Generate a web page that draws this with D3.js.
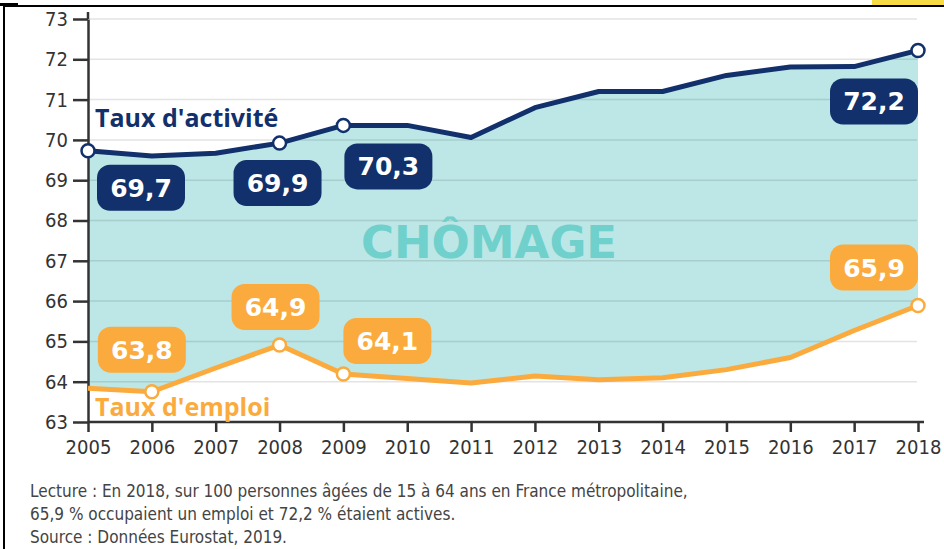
<!DOCTYPE html>
<html>
<head>
<meta charset="utf-8">
<script src="https://cdn.jsdelivr.net/npm/d3@7"></script>
<style>
  body { margin: 0; background: #fff; }
  svg { display: block; }
</style>
</head>
<body>
<div id="container"></div>
<script>
// values
const years = [2005, 2006, 2007, 2008, 2009, 2010, 2011, 2012, 2013, 2014, 2015, 2016, 2017, 2018];
const tauxActivite = [69.73, 69.6, 69.67, 69.92, 70.36, 70.36, 70.06, 70.8, 71.2, 71.2, 71.6, 71.81, 71.82, 72.22];
const tauxEmploi = [63.84, 63.75, 64.34, 64.91, 64.19, 64.08, 63.97, 64.14, 64.05, 64.1, 64.3, 64.6, 65.27, 65.89];
const yTicks = [63, 64, 65, 66, 67, 68, 69, 70, 71, 72, 73];
const activiteLabels = [
    { year: 2005, text: '69,7' },
    { year: 2008, text: '69,9' },
    { year: 2009, text: '70,3' },
    { year: 2018, text: '72,2' }
];
const emploiLabels = [
    { year: 2006, text: '63,8' },
    { year: 2008, text: '64,9' },
    { year: 2009, text: '64,1' },
    { year: 2018, text: '65,9' }
];
const footerLines = [
    'Lecture : En 2018, sur 100 personnes âgées de 15 à 64 ans en France métropolitaine,',
    '65,9 % occupaient un emploi et 72,2 % étaient actives.',
    'Source : Données Eurostat, 2019.'
];

const w = 944;
const h = 549;
const navy = '#12306b';
const orange = '#fbab3e';
const teal = '#bce7e6';
const axisColor = '#333';
const condensed = '"DejaVu Sans Condensed", "Liberation Sans Narrow", sans-serif';

const svg = d3.select('#container').append('svg')
    .attr('width', w)
    .attr('height', h);

const xScale = d3.scaleLinear().domain([2005, 2018]).range([88, 918]);
const yScale = d3.scaleLinear().domain([63, 73]).range([422, 19]);

const rows = years.map((year, i) => ({ year, act: tauxActivite[i], emp: tauxEmploi[i] }));

// frame bits of the cropped page
svg.append('rect').attr('x', 872).attr('y', 0).attr('width', 72).attr('height', 6).attr('fill', '#f8dc45');
svg.append('path').attr('d', `M4,${h} V6 H${w}`).attr('fill', 'none').attr('stroke', '#000').attr('stroke-width', 2);
svg.append('rect').attr('x', 0).attr('y', 3).attr('width', 18).attr('height', 3).attr('fill', '#000');

// shaded band between the two rates
const area = d3.area()
    .x(d => xScale(d.year))
    .y0(d => yScale(d.emp))
    .y1(d => yScale(d.act));

svg.append('path')
    .datum(rows)
    .attr('d', area)
    .attr('fill', teal);

// grid
svg.append('g')
    .selectAll('line')
    .data(yTicks.filter(t => t > 63))
    .join('line')
    .attr('x1', xScale(2005))
    .attr('x2', xScale(2018) - 1)
    .attr('y1', d => yScale(d))
    .attr('y2', d => yScale(d))
    .attr('stroke', 'rgba(0,0,0,0.11)')
    .attr('stroke-width', 1.5);

svg.append('text')
    .attr('x', 489)
    .attr('y', 258)
    .attr('text-anchor', 'middle')
    .attr('font-family', '"DejaVu Sans", sans-serif')
    .attr('font-weight', 'bold')
    .attr('font-size', 45)
    .attr('fill', '#6fd0cc')
    .text('CHÔMAGE');

// axes
const yAxis = d3.axisLeft(yScale)
    .tickValues(yTicks)
    .tickSize(15)
    .tickSizeOuter(0)
    .tickPadding(5);

const xAxis = d3.axisBottom(xScale)
    .tickValues(years)
    .tickFormat(d3.format('d'))
    .tickSize(10)
    .tickSizeOuter(0)
    .tickPadding(8);

const gy = svg.append('g')
    .attr('transform', `translate(${xScale(2005)},0)`)
    .call(yAxis);

const gx = svg.append('g')
    .attr('transform', `translate(0,${yScale(63)})`)
    .call(xAxis);

[gx, gy].forEach(g => {
    g.selectAll('path, line').attr('stroke', axisColor).attr('stroke-width', 2.5);
    g.selectAll('text')
        .attr('fill', axisColor)
        .attr('font-family', condensed)
        .attr('font-size', 20);
});
svg.append('line')
    .attr('x1', xScale(2005)).attr('x2', xScale(2005))
    .attr('y1', yScale(73) - 7).attr('y2', yScale(73))
    .attr('stroke', axisColor).attr('stroke-width', 2.5);
gx.select('.domain').attr('d', `M${xScale(2005)},0H${xScale(2018) + 6}`);

// lines
const lineAct = d3.line().x(d => xScale(d.year)).y(d => yScale(d.act));
const lineEmp = d3.line().x(d => xScale(d.year)).y(d => yScale(d.emp));

svg.append('path').datum(rows).attr('d', lineEmp)
    .attr('fill', 'none').attr('stroke', orange).attr('stroke-width', 5).attr('stroke-linejoin', 'round');
svg.append('path').datum(rows).attr('d', lineAct)
    .attr('fill', 'none').attr('stroke', navy).attr('stroke-width', 5).attr('stroke-linejoin', 'round');

// series names
svg.append('text')
    .attr('x', 95).attr('y', 127)
    .attr('font-family', '"Open Sans", sans-serif')
    .attr('font-weight', 'bold')
    .attr('font-size', 25)
    .attr('fill', navy)
    .text("Taux d'activité");

svg.append('text')
    .attr('x', 95).attr('y', 416)
    .attr('font-family', '"Open Sans", sans-serif')
    .attr('font-weight', 'bold')
    .attr('font-size', 25)
    .attr('fill', orange)
    .text("Taux d'emploi");

// markers
const drawMarkers = (labels, key, color) => {
    svg.append('g')
        .selectAll('circle')
        .data(labels)
        .join('circle')
        .attr('cx', d => xScale(d.year))
        .attr('cy', d => yScale(rows.find(r => r.year === d.year)[key]))
        .attr('r', 6.5)
        .attr('fill', '#fff')
        .attr('stroke', color)
        .attr('stroke-width', 2.5);
};
drawMarkers(activiteLabels, 'act', navy);
drawMarkers(emploiLabels, 'emp', orange);

// value boxes, placed relative to their point
const actOffsets = [[53, 37], [-2, 40], [45, 41], [-44, 51]];
const empOffsets = [[-10, -42], [-4, -38], [44, -33], [-44, -38]];

const drawBoxes = (labels, key, offsets, color) => {
    const g = svg.append('g')
        .selectAll('g')
        .data(labels)
        .join('g')
        .attr('transform', (d, i) => {
            const cx = xScale(d.year) + offsets[i][0];
            const cy = yScale(rows.find(r => r.year === d.year)[key]) + offsets[i][1];
            return `translate(${cx},${cy})`;
        });
    g.append('rect')
        .attr('x', -44).attr('y', -23)
        .attr('width', 88).attr('height', 46)
        .attr('rx', 13)
        .attr('fill', color);
    g.append('text')
        .attr('text-anchor', 'middle')
        .attr('dy', '0.36em')
        .attr('font-family', '"DejaVu Sans", sans-serif')
        .attr('font-weight', 'bold')
        .attr('font-size', 25)
        .attr('fill', '#fff')
        .text(d => d.text);
};
drawBoxes(activiteLabels, 'act', actOffsets, navy);
drawBoxes(emploiLabels, 'emp', empOffsets, orange);

// footer note
svg.append('g')
    .selectAll('text')
    .data(footerLines)
    .join('text')
    .attr('x', 30)
    .attr('y', (d, i) => 497 + i * 23)
    .attr('font-family', condensed)
    .attr('font-size', 17)
    .attr('fill', '#444')
    .text(d => d);
</script>
</body>
</html>
